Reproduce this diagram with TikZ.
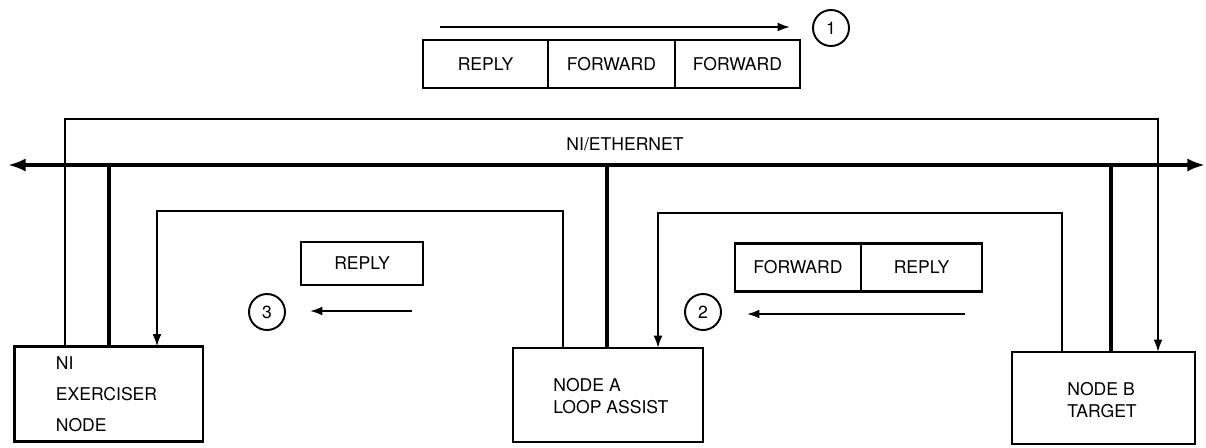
\documentclass[tikz,border=0pt]{standalone}
\usepackage{fontspec}
\setmainfont{TeX Gyre Heros}
\usetikzlibrary{arrows.meta}
\begin{document}
\begin{tikzpicture}[x=0.02cm,y=-0.02cm,
  font=\fontsize{10}{12.5}\selectfont,
  nodebox/.style={draw, line width=1.4pt, inner sep=0pt, outer sep=0pt},
  cell/.style={draw, line width=1.4pt, inner sep=0pt, outer sep=0pt, minimum height=0.96cm},
  num/.style={draw, circle, line width=1.1pt, minimum size=0.72cm, inner sep=0pt},
  txt/.style={inner sep=0pt, anchor=west, align=left},
  thinline/.style={line width=1.1pt},
  flow/.style={line width=1.1pt, -{Latex[length=7pt,width=5pt]}},
  bus/.style={line width=2.4pt},
  busarrow/.style={line width=2.4pt, {Latex[length=10pt,width=7.5pt]}-{Latex[length=10pt,width=7.5pt]}}
]
\useasboundingbox (0,0) rectangle (1206,447);

% network nodes
\node[nodebox, minimum width=3.77cm, minimum height=1.9cm] (ni) at (108.75,394) {};
\node[txt] (nitext) at (55.5,394) {NI\\[5pt]EXERCISER\\[5pt]NODE};
\node[nodebox, minimum width=3.8cm, minimum height=1.88cm] (na) at (608,395) {};
\node[txt] (natext) at (553,396) {NODE A\\LOOP ASSIST};
\node[nodebox, minimum width=3.66cm, minimum height=1.84cm] (nb) at (1103.5,398) {};
\node[txt] (nbtext) at (1067,400) {NODE B\\TARGET};

% ethernet bus
\coordinate (eL) at (8,165);
\coordinate (eR) at (1205,165);
\draw[busarrow] (eL) -- (eR);
\node (eth) at (625,144) {NI/ETHERNET};
\draw[bus] (ni.north -| 109,0) -- (eL -| 109,0);
\draw[bus] (na.north -| 607,0) -- (eL -| 607,0);
\draw[bus] (nb.north -| 1111,0) -- (eL -| 1111,0);

% outer loop (1)
\draw[flow] (ni.north -| 65,0) -- (65,119) -- (1158,119) -- (nb.north -| 1158,0);
% loop (2)
\draw[flow] (nb.north -| 1062,0) -- (1062,213) -- (658,213) -- (na.north -| 658,0);
% loop (3)
\draw[flow] (na.north -| 563,0) -- (563,211) -- (157,211) -- (ni.north -| 157,0);

% packet 1
\node[cell, minimum width=2.5cm] (p1a) at (485.5,64) {REPLY};
\node[cell, minimum width=2.54cm] (p1b) at (611.5,64) {FORWARD};
\node[cell, minimum width=2.5cm] (p1c) at (737.5,64) {FORWARD};
\coordinate (a1s) at (440,27);
\coordinate (a1e) at (790,27);
\draw[flow] (a1s) -- (a1e);
\node[num] (c1) at (831,28) {1};

% packet 2
\node[cell, minimum width=2.52cm] (p2a) at (798,267.5) {FORWARD};
\node[cell, minimum width=2.42cm] (p2b) at (921.5,267.5) {REPLY};
\coordinate (a2s) at (965,314);
\coordinate (a2e) at (747,314);
\draw[flow] (a2s) -- (a2e);
\node[num] (c2) at (703,312) {2};

% packet 3
\node[cell, minimum width=2.44cm, minimum height=0.86cm] (p3a) at (362,263.5) {REPLY};
\coordinate (a3s) at (412,311);
\coordinate (a3e) at (310,311);
\draw[flow] (a3s) -- (a3e);
\node[num] (c3) at (267,312) {3};
\end{tikzpicture}
\end{document}
